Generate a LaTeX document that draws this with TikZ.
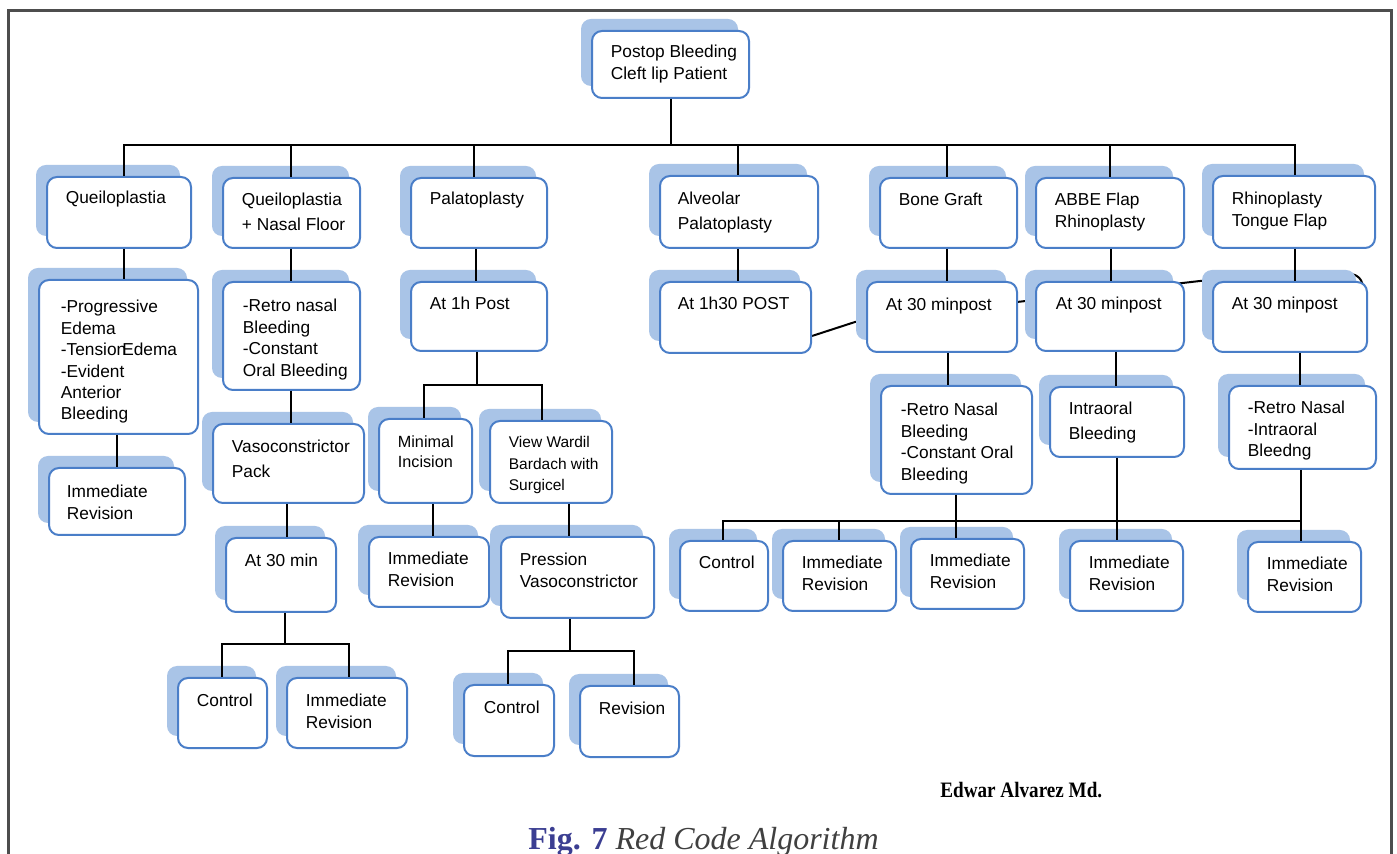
\documentclass[tikz,border=0pt]{standalone}
\usepackage{fontspec}
\setmainfont{Liberation Sans}
\newfontfamily\capfont{Liberation Serif}
\usetikzlibrary{calc,fit,shadows,backgrounds}
\definecolor{boxblue}{HTML}{4A7EC8}
\definecolor{shadeblue}{HTML}{A9C4E7}
\definecolor{figblue}{HTML}{3B3E92}
\definecolor{capgray}{HTML}{404040}
\definecolor{framegray}{HTML}{4D4D4D}
\tikzset{
  cbox/.style={rectangle, rounded corners=5pt, draw=boxblue, line width=1pt, fill=white, inner sep=0pt,
    general shadow={fill=shadeblue, shadow xshift=-5.5pt, shadow yshift=6pt}},
  txt/.style={anchor=base west, inner sep=0pt, font=\fontsize{8.65}{10.7}\selectfont},
  widetxt/.style={font=\fontsize{8.65}{12.3}\selectfont},
  smalltxt/.style={font=\fontsize{8.1}{10}\selectfont},
  tinytxt/.style={font=\fontsize{7.75}{10.75}\selectfont},
  link/.style={draw=black, line width=1pt}
}
% box with shadow, text set from its top left corner
\newcommand{\flowbox}[6][]{%
  \node[cbox, fit={#3 #4}] (#2) {};
  \node[txt, #1] (#2-t) at ($(#2.north west)+#5+(1.5,2)$) {\begin{tabular}[t]{@{}l@{}}#6\end{tabular}};
}

\begin{document}
\begin{tikzpicture}[x=0.5pt, y=-0.5pt]
  \useasboundingbox (0,0) rectangle (1397,854);
  \begin{scope}[on background layer]
    \fill[white] (0,0) rectangle (1397,854);
  \end{scope}
  \draw[framegray, line width=1.5pt] (8,900) -- (8,11) -- (1391,11) -- (1391,900);

  % level 1
  \flowbox{root}{(592,31)}{(749,98)}{(18,26)}{Postop Bleeding\\Cleft lip Patient}
  \flowbox{queilo}{(47,177)}{(191,248)}{(18,26)}{Queiloplastia}
  \flowbox[widetxt]{qnasal}{(223,178)}{(360,248)}{(18,27)}{Queiloplastia\\+ Nasal Floor}
  \flowbox{palato}{(411,178)}{(547,248)}{(18,26)}{Palatoplasty}
  \flowbox[widetxt]{alveo}{(660,176)}{(818,248)}{(17,28)}{Alveolar\\Palatoplasty}
  \flowbox{bone}{(880,178)}{(1017,248)}{(18,27)}{Bone Graft}
  \flowbox{abbe}{(1036,178)}{(1184,248)}{(18,27)}{ABBE Flap\\Rhinoplasty}
  \flowbox{rhino}{(1213,176)}{(1375,248)}{(18,28)}{Rhinoplasty\\Tongue Flap}

  % level 2
  \flowbox{prog}{(39,280)}{(198,434)}{(21,32)}{-Progressive\\Edema\\-Tension\kern-2pt Edema\\-Evident\\Anterior\\Bleeding}
  \flowbox{retro1}{(223,282)}{(360,390)}{(19,29)}{-Retro nasal\\Bleeding\\-Constant\\Oral Bleeding}
  \flowbox{post1h}{(411,282)}{(547,351)}{(18,27)}{At 1h Post}
  \flowbox{alvpost}{(660,282)}{(811,353)}{(17,27)}{At 1h30 POST}
  \flowbox{bonepost}{(867,282)}{(1017,352)}{(18,28)}{At 30 minpost}
  \flowbox{abbepost}{(1036,282)}{(1184,351)}{(19,27)}{At 30 minpost}
  \flowbox{rhinopost}{(1213,282)}{(1367,352)}{(18,27)}{At 30 minpost}

  % level 3
  \flowbox{immq}{(49,468)}{(185,535)}{(17,29)}{Immediate\\Revision}
  \flowbox[widetxt]{vaso}{(213,424)}{(364,503)}{(18,28)}{Vasoconstrictor\\Pack}
  \flowbox[smalltxt]{minimal}{(379,419)}{(472,503)}{(18,28)}{Minimal\\Incision}
  \flowbox[tinytxt]{wardil}{(490,421)}{(612,503)}{(18,26)}{View Wardil\\Bardach with\\Surgicel}
  \flowbox{retro2}{(881,386)}{(1032,494)}{(19,29)}{-Retro Nasal\\Bleeding\\-Constant Oral\\Bleeding}
  \flowbox[widetxt]{intra}{(1050,387)}{(1184,457)}{(18,27)}{Intraoral\\Bleeding}
  \flowbox{retro3}{(1229,386)}{(1376,469)}{(18,27)}{-Retro Nasal\\-Intraoral\\Bleedng}

  % level 4
  \flowbox{at30}{(226,538)}{(336,612)}{(18,28)}{At 30 min}
  \flowbox{immm}{(369,537)}{(489,607)}{(18,27)}{Immediate\\Revision}
  \flowbox{press}{(501,537)}{(654,618)}{(18,28)}{Pression\\Vasoconstrictor}
  \flowbox{ctrl1}{(680,541)}{(768,611)}{(18,27)}{Control}
  \flowbox{imm1}{(783,541)}{(896,611)}{(18,27)}{Immediate\\Revision}
  \flowbox{imm2}{(911,539)}{(1024,609)}{(18,27)}{Immediate\\Revision}
  \flowbox{imm3}{(1070,541)}{(1183,611)}{(18,27)}{Immediate\\Revision}
  \flowbox{imm4}{(1248,542)}{(1361,612)}{(18,27)}{Immediate\\Revision}

  % level 5
  \flowbox{ctrl2}{(178,678)}{(267,748)}{(18,28)}{Control}
  \flowbox{imm5}{(287,678)}{(407,748)}{(18,28)}{Immediate\\Revision}
  \flowbox{ctrl3}{(464,685)}{(554,756)}{(19,28)}{Control}
  \flowbox{rev}{(580,686)}{(679,757)}{(18,28)}{Revision}

  % connectors
  \draw[link] (root.south) -- (root.south |- 0,145) coordinate (hub);
  \foreach \n/\x in {queilo/124, qnasal/291, palato/474, alveo/738, bone/947, abbe/1110, rhino/1295}
    \draw[link] (hub) -| (\n.north -| \x,0);
  \foreach \a/\b/\x in {queilo/prog/124, qnasal/retro1/291, palato/post1h/476, alveo/alvpost/738,
      bone/bonepost/947, abbe/abbepost/1111, rhino/rhinopost/1295, prog/immq/117, retro1/vaso/291,
      vaso/at30/287, minimal/immm/433, wardil/press/569, bonepost/retro2/948, abbepost/intra/1116,
      rhinopost/retro3/1300, retro2/imm2/956, intra/imm3/1117, retro3/imm4/1301}
    \draw[link] (\a.south -| \x,0) -- (\b.north -| \x,0);
  \draw[link] (post1h.south -| 477,0) -- (477,385) coordinate (fork1);
  \draw[link] (fork1) -| (minimal.north -| 424,0);
  \draw[link] (fork1) -| (wardil.north -| 542,0);
  \draw[link] (at30.south -| 285,0) -- (285,644) coordinate (fork2);
  \draw[link] (fork2) -| (ctrl2.north -| 222,0);
  \draw[link] (fork2) -| (imm5.north -| 349,0);
  \draw[link] (press.south -| 570,0) -- (570,651) coordinate (fork3);
  \draw[link] (fork3) -| (ctrl3.north -| 508,0);
  \draw[link] (fork3) -| (rev.north -| 634,0);
  \coordinate (fork4) at (1301,521);
  \draw[link] (fork4) -| (ctrl1.north -| 723,0);
  \draw[link] (fork4) -| (imm1.north -| 839,0);

  % stray curved connector behind the boxes
  \begin{scope}[on background layer]
    \draw[link] ($(alvpost.east)+(0,18.5)$) -- (855,322) -- (1017,302) -- (1200,281) -- (1349,274)
      .. controls (1358,274) and (1363,280) .. (1363,289);
  \end{scope}

  \node[anchor=base west, inner sep=0pt, font=\capfont\bfseries\fontsize{11}{13}\selectfont] (author)
    at (940,798) {\scalebox{0.87}[1]{Edwar Alvarez Md.}};
  \node[anchor=base west, inner sep=0pt, font=\capfont\fontsize{16}{19}\selectfont] (caption)
    at (528,849) {\textcolor{figblue}{\bfseries Fig. 7} \textcolor{capgray}{\itshape Red Code Algorithm}};
\end{tikzpicture}
\end{document}
